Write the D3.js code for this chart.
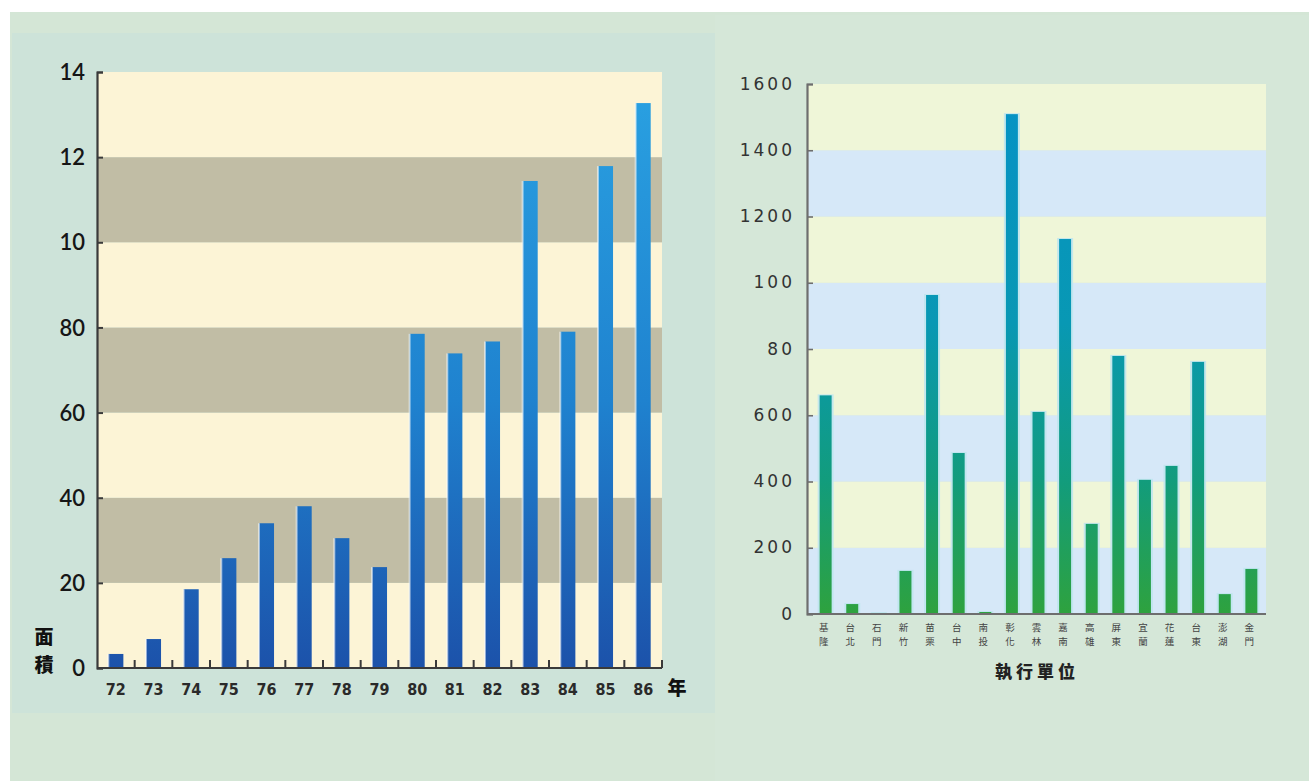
<!DOCTYPE html>
<html>
<head>
<meta charset="utf-8">
<script src="https://cdn.jsdelivr.net/npm/d3@7/dist/d3.min.js"></script>
<style>
  html, body { margin: 0; padding: 0; background: #ffffff; }
  svg { display: block; }
</style>
</head>
<body>
<svg id="chart" width="1309" height="781"></svg>
<script>
// ---- Left chart: area by year ----
const years = ["72","73","74","75","76","77","78","79","80","81","82","83","84","85","86"];
const areaValues = [3.3, 6.8, 18.5, 25.8, 34, 38, 30.5, 23.7, 78.5, 73.9, 76.7, 114.4, 79, 117.9, 132.7];
const areaTicks = [0, 20, 40, 60, 80, 100, 120, 140];
const areaTickLabels = ["0", "20", "40", "60", "80", "10", "12", "14"];

// ---- Right chart: by executing unit ----
const units = ["基隆","台北","石門","新竹","苗栗","台中","南投","彰化","雲林","嘉南","高雄","屏東","宜蘭","花蓮","台東","澎湖","金門"];
const unitValues = [660, 30, 3, 130, 963, 486, 6, 1509, 610, 1132, 272, 779, 405, 447, 761, 60, 136];
const unitTicks = [0, 200, 400, 600, 800, 1000, 1200, 1400, 1600];
const unitTickLabels = ["0", "200", "400", "600", "80", "100", "1200", "1400", "1600"];

const svg = d3.select("#chart");
const defs = svg.append("defs");

// page backgrounds
svg.append("rect").attr("x", 10).attr("y", 12).attr("width", 1299).attr("height", 769).attr("fill", "#d4e6d6");
svg.append("rect").attr("x", 12).attr("y", 33).attr("width", 703).attr("height", 680).attr("fill", "#cde3d9");
svg.append("rect").attr("x", 715).attr("y", 15).attr("width", 594).attr("height", 766).attr("fill", "#d5e7d8");

// ================= LEFT =================
const L = { x0: 97, x1: 662, y0: 668, y1: 72 };
const xL = d3.scaleBand().domain(years).range([L.x0, L.x1]).paddingInner(0.6).paddingOuter(0.3);
const xLstep = d3.scaleBand().domain(years).range([L.x0, L.x1]);
const yL = d3.scaleLinear().domain([0, 140]).range([L.y0, L.y1]);

const gL = svg.append("g");
// alternating bands
for (let i = 0; i < areaTicks.length - 1; i++) {
  const a = areaTicks[i], b = areaTicks[i + 1];
  gL.append("rect")
    .attr("x", L.x0).attr("width", L.x1 - L.x0)
    .attr("y", yL(b)).attr("height", yL(a) - yL(b))
    .attr("fill", (i % 2 === 1) ? "#c1bda5" : "#fcf4d6");
}

const gradL = defs.append("linearGradient").attr("id", "gradL")
  .attr("gradientUnits", "userSpaceOnUse")
  .attr("x1", 0).attr("y1", L.y1).attr("x2", 0).attr("y2", L.y0);
gradL.append("stop").attr("offset", "0%").attr("stop-color", "#2aa2e2");
gradL.append("stop").attr("offset", "55%").attr("stop-color", "#1f82cf");
gradL.append("stop").attr("offset", "100%").attr("stop-color", "#1c52aa");

gL.selectAll("rect.bar").data(years).join("rect").attr("class", "bar")
  .attr("x", d => xL(d)).attr("width", xL.bandwidth())
  .attr("y", (d, i) => yL(areaValues[i]))
  .attr("height", (d, i) => yL(0) - yL(areaValues[i]))
  .attr("fill", "url(#gradL)");
gL.selectAll("rect.hl").data(years).join("rect").attr("class", "hl")
  .attr("x", d => xL(d) - 1).attr("width", 2)
  .attr("y", (d, i) => yL(areaValues[i]))
  .attr("height", (d, i) => yL(0) - yL(areaValues[i]))
  .attr("fill", "#ffffff").attr("opacity", 0.55);

// y axis
const yAxisL = d3.axisRight(yL).tickValues(areaTicks).tickSize(6)
  .tickFormat((d, i) => areaTickLabels[i]);
const gyL = gL.append("g").attr("transform", `translate(${L.x0},0)`).call(yAxisL);
gyL.select(".domain").attr("stroke", "#3a3a3a").attr("stroke-width", 2.2);
gyL.selectAll(".tick line").attr("stroke", "#3a3a3a").attr("stroke-width", 2);
gyL.selectAll(".tick text")
  .attr("x", -12).attr("text-anchor", "end").attr("dy", "0.35em")
  .attr("font-family", "Lato, 'Noto Sans', sans-serif").attr("font-weight", 600)
  .attr("font-size", 22).attr("fill", "#161616");

// x axis
const gxL = gL.append("g");
gxL.append("line").attr("x1", L.x0).attr("x2", L.x1).attr("y1", L.y0).attr("y2", L.y0)
  .attr("stroke", "#3a3a3a").attr("stroke-width", 2.2);
const boundaries = years.slice(1).map(d => xLstep(d)).concat([L.x1]);
gxL.selectAll("line.tk").data(boundaries).join("line").attr("class", "tk")
  .attr("x1", d => d).attr("x2", d => d).attr("y1", L.y0).attr("y2", L.y0 - 8)
  .attr("stroke", "#3a3a3a").attr("stroke-width", 2);
gxL.selectAll("text").data(years).join("text")
  .attr("x", d => xL(d) + xL.bandwidth() / 2).attr("y", 695)
  .attr("text-anchor", "middle")
  .attr("font-family", "'Liberation Sans Narrow', 'DejaVu Sans Condensed', sans-serif")
  .attr("font-size", 16).attr("font-weight", 700).attr("fill", "#2a2a2a")
  .text(d => d);

gL.append("text").attr("x", 677).attr("y", 695).attr("text-anchor", "middle")
  .attr("font-family", "'Noto Sans CJK TC', sans-serif").attr("font-weight", 900)
  .attr("font-size", 19).attr("fill", "#111").text("年");
gL.append("text").attr("x", 44).attr("y", 644).attr("text-anchor", "middle")
  .attr("font-family", "'Noto Sans CJK TC', sans-serif").attr("font-weight", 900)
  .attr("font-size", 19).attr("fill", "#111").text("面");
gL.append("text").attr("x", 44).attr("y", 672).attr("text-anchor", "middle")
  .attr("font-family", "'Noto Sans CJK TC', sans-serif").attr("font-weight", 900)
  .attr("font-size", 19).attr("fill", "#111").text("積");

// ================= RIGHT =================
const R = { x0: 807, x1: 1266, y0: 614, y1: 84 };
const xR = d3.scaleBand().domain(units).range([813, 1264]).paddingInner(0.55).paddingOuter(0.25);
const yR = d3.scaleLinear().domain([0, 1600]).range([R.y0, R.y1]);
const gR = svg.append("g");

for (let i = 0; i < unitTicks.length - 1; i++) {
  const a = unitTicks[i], b = unitTicks[i + 1];
  gR.append("rect")
    .attr("x", R.x0).attr("width", R.x1 - R.x0)
    .attr("y", yR(b)).attr("height", yR(a) - yR(b))
    .attr("fill", (i % 2 === 0) ? "#d6e8f8" : "#eff6d8");
}

const gradR = defs.append("linearGradient").attr("id", "gradR")
  .attr("gradientUnits", "userSpaceOnUse")
  .attr("x1", 0).attr("y1", R.y1).attr("x2", 0).attr("y2", R.y0);
gradR.append("stop").attr("offset", "0%").attr("stop-color", "#0592c6");
gradR.append("stop").attr("offset", "45%").attr("stop-color", "#0898b4");
gradR.append("stop").attr("offset", "75%").attr("stop-color", "#129c7c");
gradR.append("stop").attr("offset", "100%").attr("stop-color", "#2ea23e");

// light halo behind each bar
gR.selectAll("rect.halo").data(units).join("rect").attr("class", "halo")
  .attr("x", d => xR(d) - 2).attr("width", xR.bandwidth() + 4)
  .attr("y", (d, i) => yR(unitValues[i]) - 1)
  .attr("height", (d, i) => yR(0) - yR(unitValues[i]) + 1)
  .attr("fill", "#bfe6ee").attr("opacity", 0.9);
gR.selectAll("rect.bar").data(units).join("rect").attr("class", "bar")
  .attr("x", d => xR(d)).attr("width", xR.bandwidth())
  .attr("y", (d, i) => yR(unitValues[i]))
  .attr("height", (d, i) => yR(0) - yR(unitValues[i]))
  .attr("fill", "url(#gradR)");

const yAxisR = d3.axisRight(yR).tickValues(unitTicks).tickSize(6)
  .tickFormat((d, i) => unitTickLabels[i]);
const gyR = gR.append("g").attr("transform", `translate(${R.x0},0)`).call(yAxisR);
gyR.select(".domain").attr("stroke", "#6e6e6e").attr("stroke-width", 2.2);
gyR.selectAll(".tick line").attr("stroke", "#6e6e6e").attr("stroke-width", 1.6);
gyR.selectAll(".tick text")
  .attr("x", -12).attr("text-anchor", "end").attr("dy", "0.3em")
  .attr("font-family", "'DejaVu Sans', sans-serif")
  .attr("font-size", 17).attr("letter-spacing", 3).attr("fill", "#333");

gR.append("line").attr("x1", R.x0).attr("x2", R.x1).attr("y1", R.y0).attr("y2", R.y0)
  .attr("stroke", "#6e6e6e").attr("stroke-width", 2.2);

const lbl = gR.selectAll("g.lbl").data(units).join("g").attr("class", "lbl")
  .attr("transform", d => `translate(${xR(d) + xR.bandwidth() / 2 - 2},0)`);
lbl.append("text").attr("y", 631).attr("text-anchor", "middle")
  .attr("font-family", "'Noto Sans CJK TC', sans-serif").attr("font-size", 9.5)
  .attr("fill", "#444").text(d => d[0]);
lbl.append("text").attr("y", 645).attr("text-anchor", "middle")
  .attr("font-family", "'Noto Sans CJK TC', sans-serif").attr("font-size", 9.5)
  .attr("fill", "#444").text(d => d[1]);

gR.append("text").attr("x", 1037).attr("y", 678).attr("text-anchor", "middle")
  .attr("font-family", "'Noto Sans CJK TC', sans-serif").attr("font-weight", 900)
  .attr("font-size", 17).attr("letter-spacing", 4).attr("fill", "#222").text("執行單位");
</script>
</body>
</html>
